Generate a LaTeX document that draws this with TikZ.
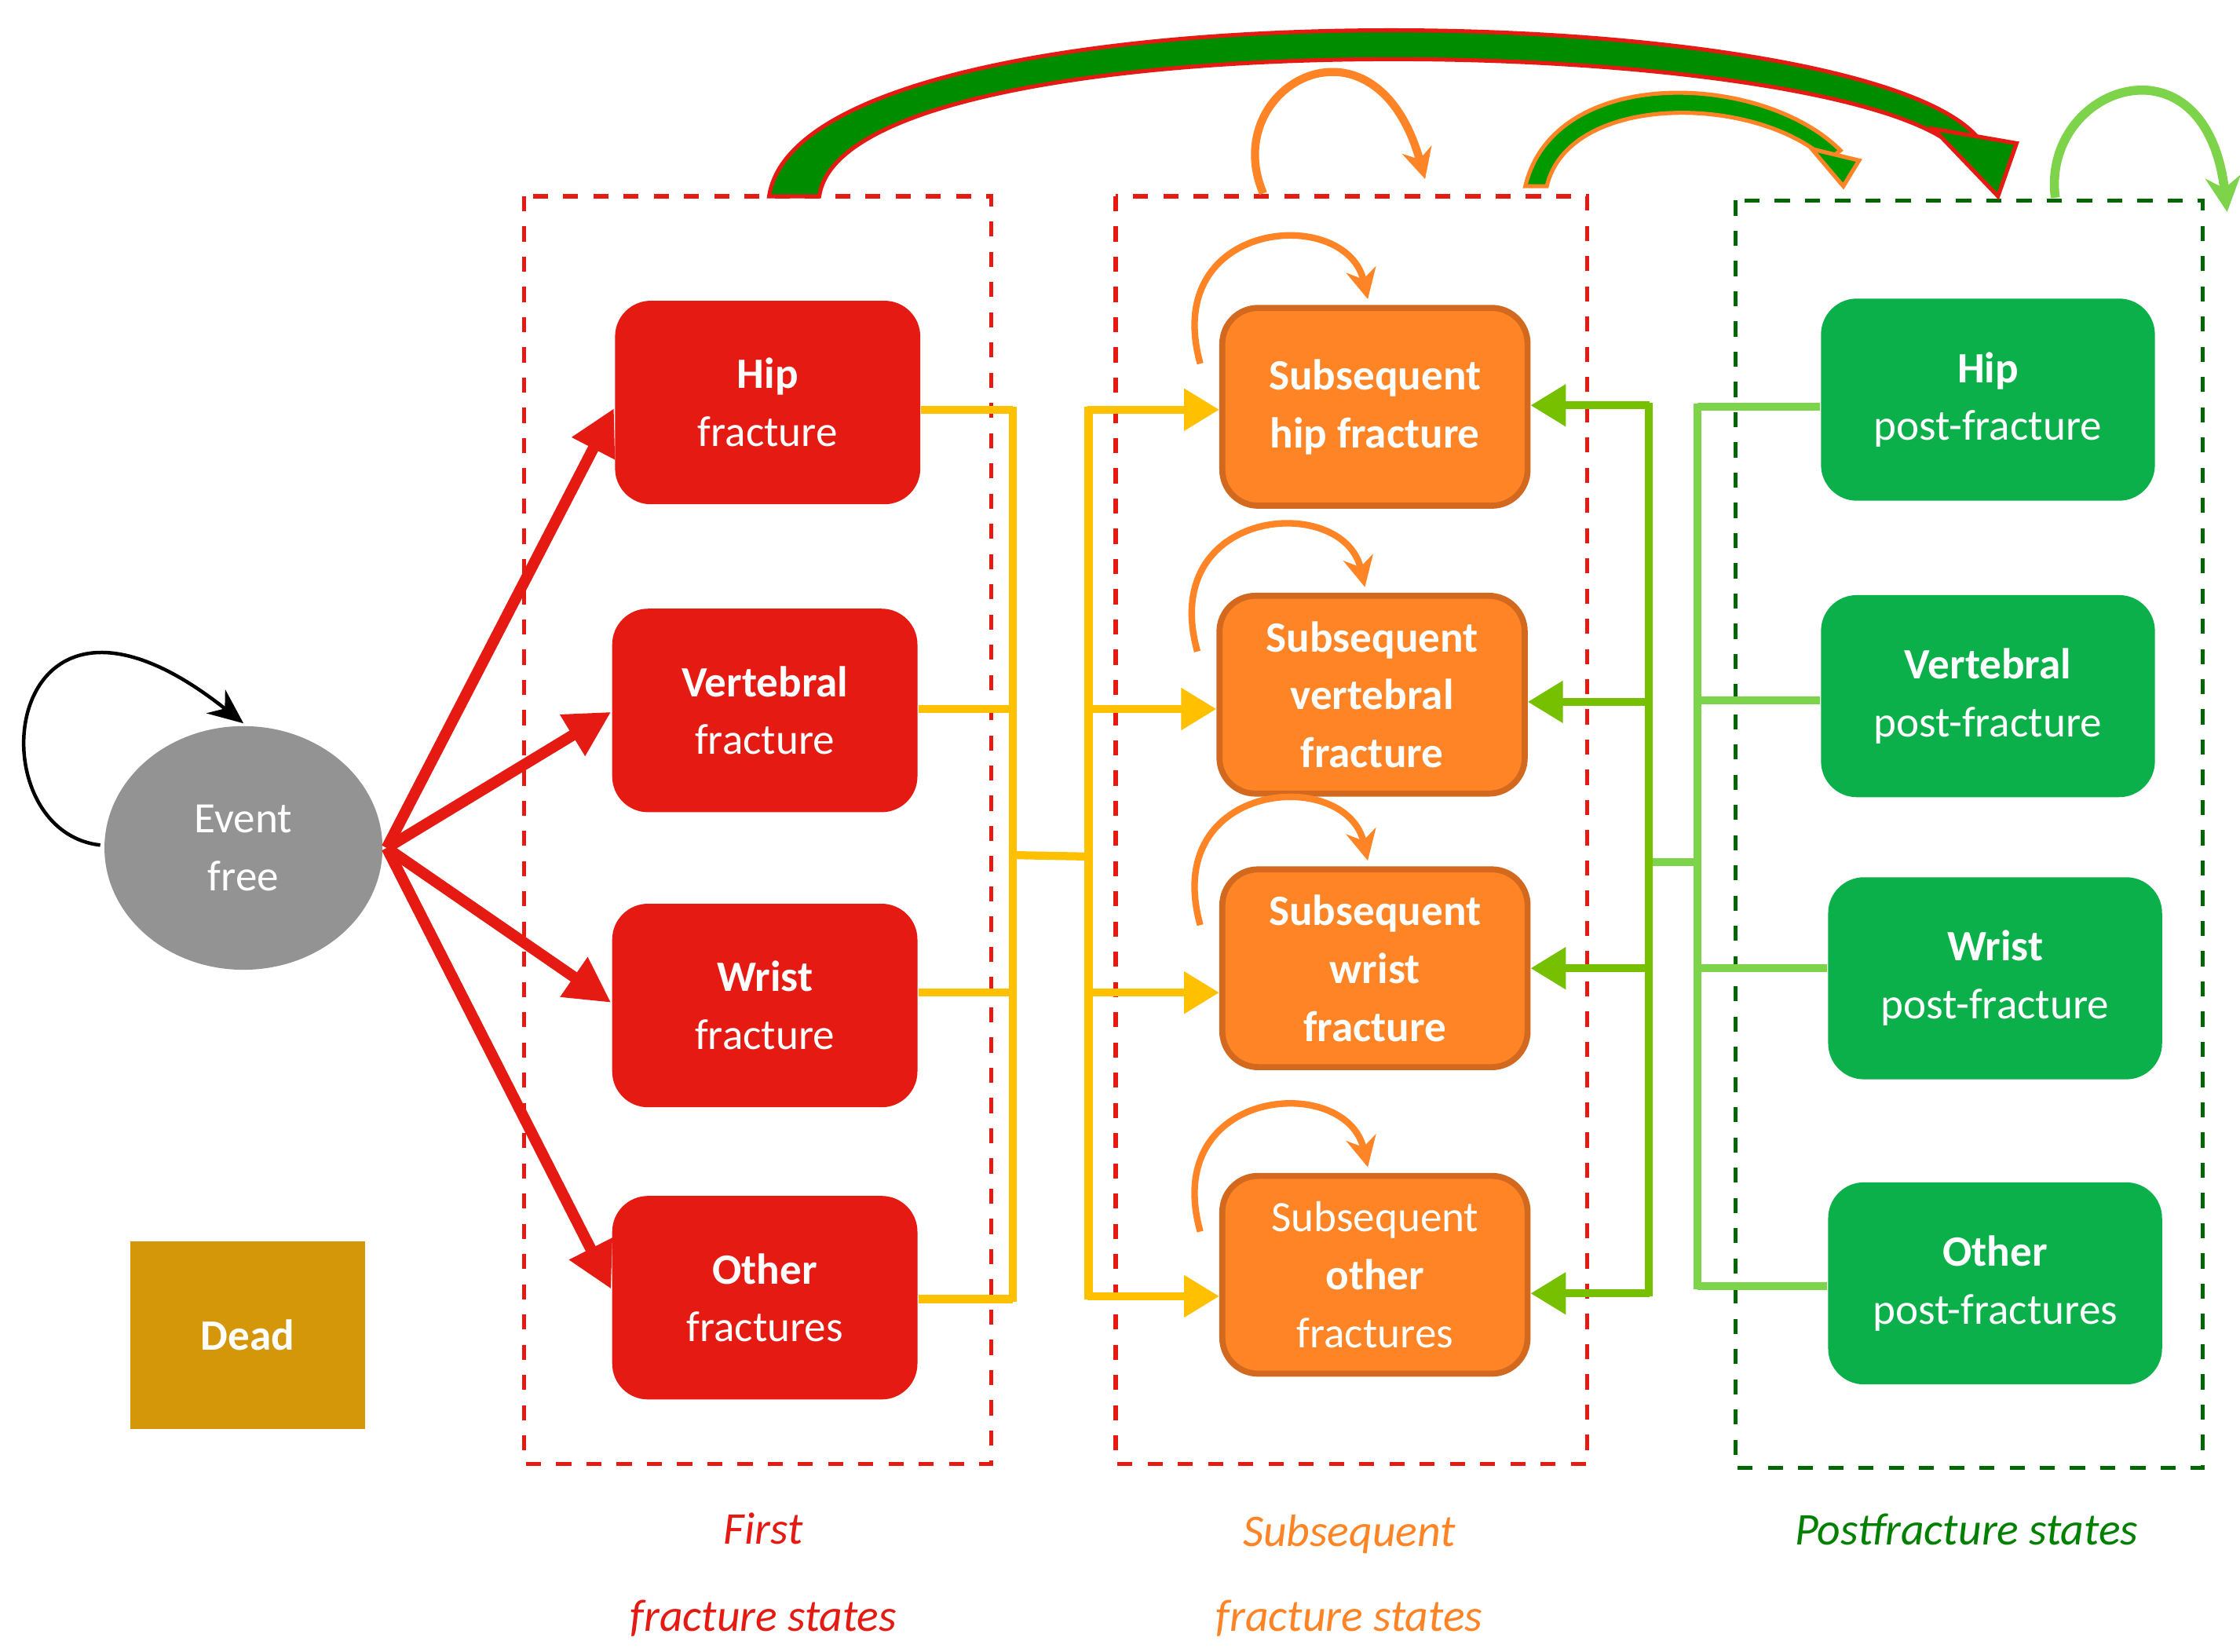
\documentclass[tikz,border=0pt]{standalone}
\usepackage{fontspec}
\setmainfont{Carlito}
\usetikzlibrary{arrows.meta,shapes.geometric,calc}
\definecolor{fr}{HTML}{E41A13}
\definecolor{so}{HTML}{FF8426}
\definecolor{sob}{HTML}{D2691E}
\definecolor{pg}{HTML}{0BB04A}
\definecolor{yl}{HTML}{FFC000}
\definecolor{lg}{HTML}{7DD34A}
\definecolor{dg}{HTML}{76C000}
\definecolor{dd}{HTML}{D4970A}
\begin{document}
\begin{tikzpicture}[x=0.01cm,y=-0.01cm,
 bx/.style={rounded corners=0.25cm,text=white,align=center,font=\fontsize{8.6}{11.5}\selectfont,inner sep=0pt},
 red/.style={bx,fill=fr,minimum width=2.13cm,minimum height=1.42cm},
 org/.style={bx,fill=so,draw=sob,line width=1.2pt,minimum width=2.13cm,minimum height=1.38cm},
 grn/.style={bx,fill=pg,minimum width=2.33cm,minimum height=1.41cm},
 rarr/.style={fr,line width=2.2pt,-{Triangle[length=9pt,width=9pt]}},
 yarr/.style={yl,line width=1.6pt,-{Triangle[length=7pt,width=8pt]}},
 garr/.style={dg,line width=1.6pt,-{Triangle[length=7pt,width=8pt]}},
 loop/.style={so,line width=1.3pt,-{Stealth[length=6pt,width=6pt]}},
 lab/.style={font=\itshape\fontsize{9}{12}\selectfont}]
\useasboundingbox (0,0) rectangle (1564,1153);
\fill[white] (0,0) rectangle (1564,1153);
% frames
\draw[fr,dashed,line width=0.8pt] (366,137) rectangle (692,1022);
\draw[fr,dashed,line width=0.8pt] (779,137) rectangle (1108,1022);
\draw[green!40!black,dashed,line width=0.8pt] (1212,140) rectangle (1538,1025);
% nodes
\node[ellipse,fill=gray!85,minimum width=1.94cm,minimum height=1.7cm,text=white,align=center,font=\fontsize{8.6}{11.5}\selectfont,inner sep=0pt] (ef) at (170,592) {Event\\free};
\node[fill=dd,minimum width=1.64cm,minimum height=1.31cm,text=white,font=\bfseries\fontsize{8.6}{11.5}\selectfont] (dead) at (173,932) {Dead};
\node[red] (h) at (536,281) {\textbf{Hip}\\fracture};
\node[red] (v) at (534,496) {\textbf{Vertebral}\\fracture};
\node[red] (w) at (534,702) {\textbf{Wrist}\\fracture};
\node[red] (o) at (534,906) {\textbf{Other}\\fractures};
\node[org,font=\bfseries\fontsize{8.6}{11.5}\selectfont] (sh) at (960,284) {Subsequent\\hip fracture};
\node[org,font=\bfseries\fontsize{8.6}{11.5}\selectfont] (sv) at (958,485) {Subsequent\\vertebral\\fracture};
\node[org,font=\bfseries\fontsize{8.6}{11.5}\selectfont] (sw) at (960,676) {Subsequent\\wrist\\fracture};
\node[org] (so) at (960,890) {Subsequent\\\textbf{other}\\fractures};
\node[grn] (ph) at (1388,279) {\textbf{Hip}\\post-fracture};
\node[grn] (pv) at (1388,486) {\textbf{Vertebral}\\post-fracture};
\node[grn] (pw) at (1393,683) {\textbf{Wrist}\\post-fracture};
\node[grn] (po) at (1393,896) {\textbf{Other}\\post-fractures};
% labels
\node[lab,text=fr] (l1) at (533,1067) {First};
\node[lab,text=fr] (l2) at (533,1130) {fracture states};
\node[lab,text=so] (l3) at (942,1071) {Subsequent};
\node[lab,text=so] (l4) at (942,1130) {fracture states};
\node[lab,text=green!50!black] (l5) at (1373,1068) {Postfracture states};
% red arrows
\coordinate (e0) at (270,592);
\foreach \n/\y in {h/285,v/497,w/700,o/900}{\draw[rarr] (e0) -- (\n.west |- 0,\y);}
% yellow
\foreach \n/\y in {h/286,v/495,w/693,o/907}{\draw[yl,line width=1.6pt] (\n.east |- 0,\y) -- (707,\y);}
\draw[yl,line width=1.6pt] (707,284) -- (707,909);
\draw[yl,line width=1.6pt] (707,597) -- (760,598);
\draw[yl,line width=1.6pt] (760,284) -- (760,907);
\foreach \n/\y in {sh/286,sv/495,sw/693,so/905}{\draw[yarr] (759,\y) -- (\n.west |- 0,\y);}
% green
\foreach \n/\y in {ph/284,pv/489,pw/676,po/898}{\draw[lg,line width=1.6pt] (\n.west |- 0,\y) -- (1185,\y);}
\draw[lg,line width=1.6pt] (1185,282) -- (1185,900);
\draw[lg,line width=1.6pt] (1185,602) -- (1150,602);
\draw[dg,line width=1.6pt] (1151,281) -- (1151,905);
\foreach \n/\y in {sh/283,sv/490,sw/676,so/903}{\draw[garr] (1152,\y) -- (\n.east |- 0,\y);}
% self loops
\coordinate (a1) at (70,590); \coordinate (a2) at (170,505);
\draw[black,line width=0.7pt,-{Stealth[length=7pt,width=6pt]}] (a1) .. controls (-20,580) and (0,370) .. (a2);
\foreach \n in {sh,sv,sw,so}{
 \draw[loop] ($(\n.north)+(-122,41)$) .. controls ($(\n.north)+(-150,-60)$) and ($(\n.north)+(-20,-70)$) .. ($(\n.north)+(-5,-4)$);
}
\coordinate (t1) at (882,135); \coordinate (t2) at (995,125);
\draw[loop,line width=1.6pt] (t1) .. controls (850,60) and (960,0) .. (t2);
\coordinate (g1) at (1435,138); \coordinate (g2) at (1555,148);
\draw[lg,line width=1.8pt,-{Stealth[length=7pt,width=7pt]}] (g1) .. controls (1425,60) and (1540,20) .. (g2);
% big ribbon arrow
\filldraw[fill=green!55!black,draw=fr,line width=0.8pt] (537,137) .. controls (560,-15) and (1290,-5) .. (1380,95) -- (1368,105) .. controls (1280,20) and (590,10) .. (572,137) -- cycle;
\filldraw[fill=green!55!black,draw=fr,line width=0.8pt] (1350,90) -- (1408,100) -- (1395,137) -- cycle;
% small ribbon arrow
\filldraw[fill=green!60!black,draw=so,line width=0.8pt] (1065,130) .. controls (1085,45) and (1230,50) .. (1285,105) -- (1276,112) .. controls (1225,65) and (1095,65) .. (1080,130) -- cycle;
\filldraw[fill=green!60!black,draw=so,line width=0.8pt] (1265,104) -- (1298,112) -- (1287,130) -- cycle;
\end{tikzpicture}
\end{document}
